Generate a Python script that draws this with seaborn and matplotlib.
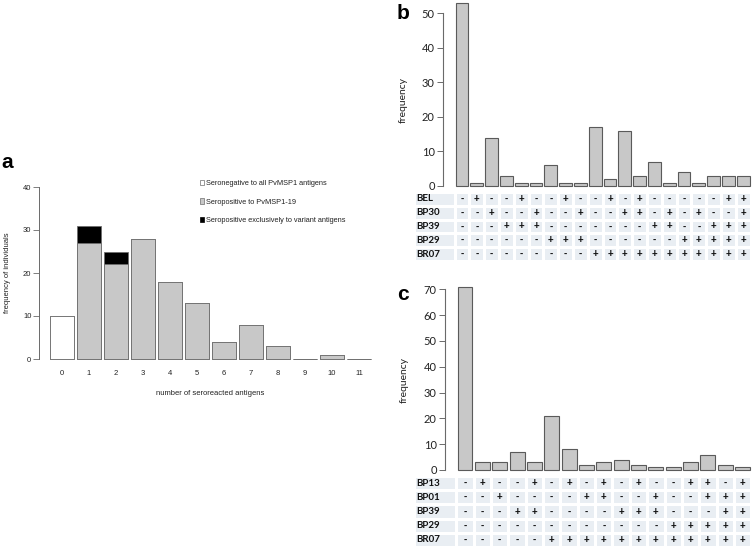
import numpy as np
import pandas as pd
import matplotlib
matplotlib.use("Agg")
import matplotlib.pyplot as plt
import seaborn as sns
from matplotlib.colors import ListedColormap
from matplotlib.patches import Patch

# ---------------- data ----------------
# panel a
a_antigens = [0, 1, 2, 3, 4, 5, 6, 7, 8, 9, 10, 11]
a_seronegative = [10, 0, 0, 0, 0, 0, 0, 0, 0, 0, 0, 0]
a_seropositive_19 = [0, 27, 22, 28, 18, 13, 4, 8, 3, 0, 1, 0]
a_variant_only = [0, 4, 3, 0, 0, 0, 0, 0, 0, 0, 0, 0]
a_legend = ["Seronegative to all PvMSP1 antigens",
            "Seropositive to PvMSP1-19",
            "Seropositive exclusively to variant antigens"]

# panel b
b_counts = [53, 1, 14, 3, 1, 1, 6, 1, 1, 17, 2, 16, 3, 7, 1, 4, 1, 3, 3, 3]
b_names = ["BEL", "BP30", "BP39", "BP29", "BR07"]
b_BEL = list("-+--+--+--+-+-----++")
b_BP30 = list("--+--+--+--++-+-+--+")
b_BP39 = list("---+++-------++--+++")
b_BP29 = list("------+++------+++++")
b_BR07 = list("---------+++++++++++")

# panel c
c_counts = [71, 3, 3, 7, 3, 21, 8, 2, 3, 4, 2, 1, 1, 3, 6, 2, 1]
c_names = ["BP13", "BP01", "BP39", "BP29", "BR07"]
c_BP13 = list("-+--+-+-+-+--++-+")
c_BP01 = list("--+----++--+--+++")
c_BP39 = list("---++----+++---++")
c_BP29 = list("------------+++++")
c_BR07 = list("-----++++++++++++")

# ---------------- style ----------------
sns.set_theme(style="white")
plt.rcParams["font.family"] = ["Liberation Sans", "DejaVu Sans"]

W, H = 756, 552
fig = plt.figure(figsize=(W / 100, H / 100), dpi=100)


def box(l, t, r, b):
    return [l / W, 1 - b / H, (r - l) / W, (b - t) / H]


AX = "#6a6a6a"
TXT = "#222222"
GRAY = "#c8c8c8"
EDGE = "#6e6e6e"
CELL = "#e9eef3"

# ---------------- panel a ----------------
axa = fig.add_axes(box(39, 187, 375, 359))
dfa = pd.DataFrame({
    "antigens": a_antigens,
    "base": np.array(a_seronegative) + np.array(a_seropositive_19),
    "total": np.array(a_seronegative) + np.array(a_seropositive_19) + np.array(a_variant_only),
    "group": ["neg" if n > 0 else "pos" for n in a_seronegative],
})
sns.barplot(data=dfa, x="antigens", y="total", color="black", saturation=1,
            edgecolor=EDGE, linewidth=0.6, width=0.87, errorbar=None, ax=axa)
sns.barplot(data=dfa, x="antigens", y="base", hue="group",
            palette={"neg": "white", "pos": GRAY}, dodge=False, legend=False,
            saturation=1, edgecolor=EDGE, linewidth=0.6, width=0.87,
            errorbar=None, ax=axa)
for p in axa.patches:
    p.set_clip_on(False)
axa.set_xlim(-0.852, 11.59)
axa.set_ylim(0, 40)
axa.set_yticks([0, 10, 20, 30, 40])
for s in ["top", "right", "bottom"]:
    axa.spines[s].set_visible(False)
axa.spines["left"].set_bounds(0, 40)
axa.spines["left"].set_color(AX)
axa.spines["left"].set_linewidth(0.7)
axa.tick_params(axis="y", length=4, width=0.6, color=AX, labelsize=5.5,
                pad=1.5, labelcolor=TXT, left=True)
axa.tick_params(axis="x", length=0, labelsize=5.5, pad=8, labelcolor=TXT)
axa.set_xlabel("number of seroreacted antigens", fontsize=5.5, color=TXT)
axa.xaxis.set_label_coords(0.51, -0.18)
axa.set_ylabel("frequency of individuals", fontsize=5.5, color=TXT)
axa.yaxis.set_label_coords(-0.083, 0.5)
handles = [Patch(facecolor="white", edgecolor=EDGE, linewidth=0.5),
           Patch(facecolor=GRAY, edgecolor=EDGE, linewidth=0.5),
           Patch(facecolor="black", edgecolor="black", linewidth=0.5)]
axa.legend(handles, a_legend, loc="upper left", bbox_to_anchor=(200 / W, 1 - 180 / H),
           bbox_transform=fig.transFigure, frameon=False, fontsize=5.3,
           handlelength=0.55, handleheight=0.75, handletextpad=0.3,
           labelspacing=1.5, borderpad=0, borderaxespad=0, labelcolor=TXT)
fig.text(1 / W, 1 - 168 / H, "a", fontsize=15, fontweight="bold", color="black",
         ha="left", va="baseline")


# ---------------- panels b / c ----------------
def upset_panel(letter, counts, names, rows, bar_box, xlim, ylim, ticks, tab_box,
                lab_box, letter_y, ylab_x, ylab_y):
    ax = fig.add_axes(box(*bar_box))
    df = pd.DataFrame({"combo": list(range(len(counts))), "n": counts})
    sns.barplot(data=df, x="combo", y="n", color=GRAY, saturation=1,
                edgecolor="#5a5a5a", linewidth=0.8, width=0.86, errorbar=None, ax=ax)
    for p in ax.patches:
        p.set_clip_on(False)
    ax.set_xlim(*xlim)
    ax.set_ylim(*ylim)
    ax.set_yticks(ticks)
    ax.set_xticks([])
    ax.set_xlabel("")
    for s in ["top", "right", "bottom"]:
        ax.spines[s].set_visible(False)
    ax.spines["left"].set_bounds(ticks[0], ticks[-1])
    ax.spines["left"].set_color(AX)
    ax.spines["left"].set_linewidth(0.8)
    ax.tick_params(axis="y", length=4, width=0.7, color=AX, labelsize=8,
                   pad=2, labelcolor=TXT, left=True)
    for lab in ax.get_yticklabels():
        lab.set_fontfamily(["Lato", "DejaVu Sans"])
    ax.set_ylabel("frequency", fontsize=7.5, color=TXT, family=["Lato", "DejaVu Sans"])
    ax.yaxis.set_label_coords(ylab_x, ylab_y)

    # combination table
    axt = fig.add_axes(box(*tab_box))
    signs = np.array(rows)
    sns.heatmap(np.zeros(signs.shape), annot=signs, fmt="", cmap=ListedColormap([CELL]),
                cbar=False, linewidths=1, linecolor="white", xticklabels=False,
                yticklabels=False, annot_kws={"fontsize": 7, "fontweight": "bold",
                                              "color": "#111111"}, ax=axt)
    axl = fig.add_axes(box(*lab_box))
    sns.heatmap(np.zeros((len(names), 1)), annot=np.array(names).reshape(-1, 1), fmt="",
                cmap=ListedColormap([CELL]), cbar=False, linewidths=1, linecolor="white",
                xticklabels=False, yticklabels=False,
                annot_kws={"fontsize": 7, "fontweight": "bold", "color": "#111111"}, ax=axl)
    for t in axl.texts:
        t.set_ha("left")
        t.set_x(0.06)
        t.set_fontfamily(["Lato", "DejaVu Sans"])
    fig.text(397 / W, 1 - letter_y / H, letter, fontsize=15, fontweight="bold",
             color="black", ha="left", va="baseline")
    return ax


upset_panel("b", b_counts, b_names, [b_BEL, b_BP30, b_BP39, b_BP29, b_BR07],
            (443, 0.9, 750.6, 186), (-1.284, 19.5), (0, 53.5), [0, 10, 20, 30, 40, 50],
            (454.6, 192, 750.6, 261), (414, 192, 454.6, 261), 19,
            -0.115, 0.465)
upset_panel("c", c_counts, c_names, [c_BP13, c_BP01, c_BP39, c_BP29, c_BR07],
            (445, 284.2, 751.3, 470), (-1.153, 16.5), (0, 72), [0, 10, 20, 30, 40, 50, 60, 70],
            (456.3, 476, 751.3, 547), (414, 476, 456.3, 547), 300,
            -0.118, 0.484)

fig.savefig("out.png", dpi=100)
